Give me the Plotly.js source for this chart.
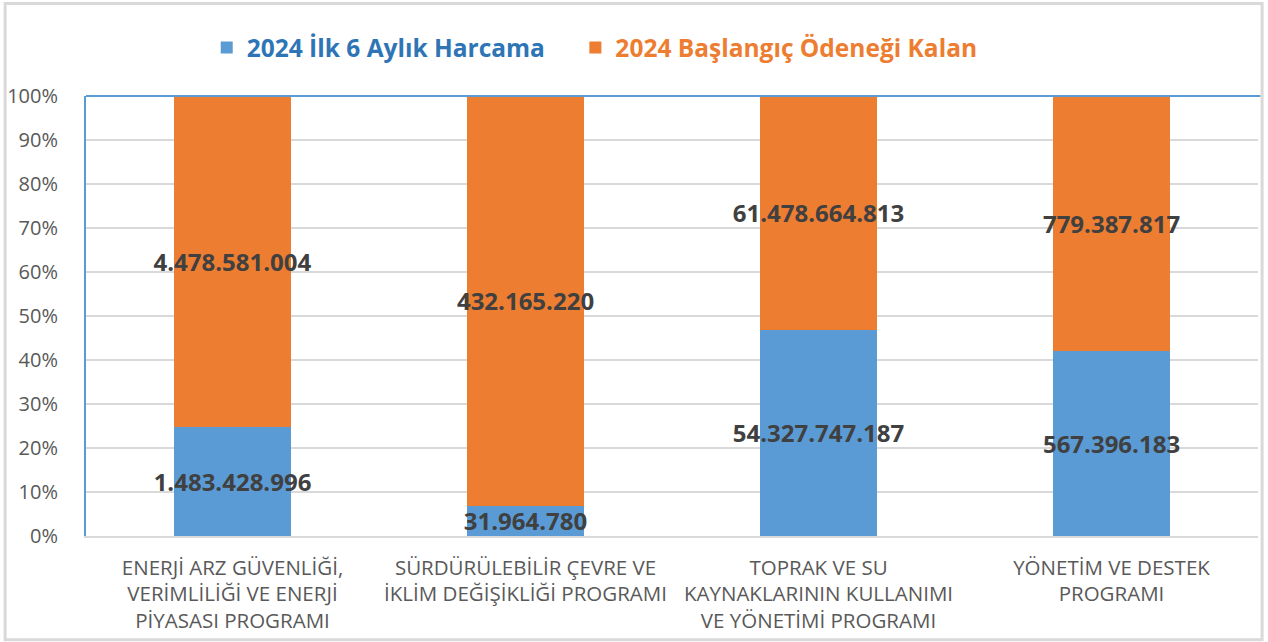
<!DOCTYPE html>
<html>
<head>
<meta charset="utf-8">
<script src="https://cdn.plot.ly/plotly-3.0.1.min.js"></script>
<style>
html,body{margin:0;padding:0;background:#fff;}
#chart{width:1268px;height:642px;}
</style>
</head>
<body>
<div id="chart"></div>
<script>
const categories = [
  "ENERJİ ARZ GÜVENLİĞİ,<br>VERİMLİLİĞİ VE ENERJİ<br>PİYASASI PROGRAMI",
  "SÜRDÜRÜLEBİLİR ÇEVRE VE<br>İKLİM DEĞİŞİKLİĞİ PROGRAMI",
  "TOPRAK VE SU<br>KAYNAKLARININ KULLANIMI<br>VE YÖNETİMİ PROGRAMI",
  "YÖNETİM VE DESTEK<br>PROGRAMI"
];
const harcama = [1483428996, 31964780, 54327747187, 567396183];
const kalan = [4478581004, 432165220, 61478664813, 779387817];
const seriesNames = ["2024 İlk 6 Aylık Harcama", "2024 Başlangıç Ödeneği Kalan"];
const yTicks = [0, 10, 20, 30, 40, 50, 60, 70, 80, 90, 100];
const yTickLabels = ["0%", "10%", "20%", "30%", "40%", "50%", "60%", "70%", "80%", "90%", "100%"];

function fmt(v) {
  return String(v).replace(/\B(?=(\d{3})+(?!\d))/g, ".");
}

const labelFont = {family: "Open Sans, sans-serif", size: 24, color: "#404040", weight: "bold"};
const pad = "\u00A0\u00A0\u00A0\u00A0";

const traces = [
  {
    type: "bar", x: categories, y: harcama,
    name: '<span style="color:#2E75B6">' + seriesNames[0] + '</span>' + pad,
    marker: {color: "#5B9BD5"},
    text: harcama.map(fmt), textposition: "inside", insidetextanchor: "middle",
    constraintext: "none", textangle: 0,
    textfont: labelFont, insidetextfont: labelFont,
    hoverinfo: "skip"
  },
  {
    type: "bar", x: categories, y: kalan,
    name: '<span style="color:#ED7D31">' + seriesNames[1] + '</span>',
    marker: {color: "#ED7D31"},
    text: kalan.map(fmt), textposition: "inside", insidetextanchor: "middle",
    constraintext: "none", textangle: 0,
    textfont: labelFont, insidetextfont: labelFont,
    hoverinfo: "skip"
  }
];

const layout = {
  width: 1268, height: 642,
  margin: {l: 86, r: 10, t: 96, b: 106},
  paper_bgcolor: "#ffffff", plot_bgcolor: "#ffffff",
  barmode: "stack", barnorm: "percent", bargap: 0.6,
  font: {family: "Open Sans, sans-serif", color: "#595959"},
  showlegend: true,
  legend: {
    orientation: "h", x: 0.103, xanchor: "left", y: 1.11, yanchor: "middle",
    font: {family: "Open Sans, sans-serif", size: 24.5, weight: "bold"},
    traceorder: "normal", itemwidth: 30, bgcolor: "rgba(0,0,0,0)"
  },
  xaxis: {
    type: "category", showgrid: false, zeroline: false,
    showline: true, linecolor: "#D9D9D9", linewidth: 2,
    tickfont: {family: "Open Sans, sans-serif", size: 20.5, color: "#595959"},
    ticks: "", ticklabelstandoff: 12, fixedrange: true
  },
  yaxis: {
    range: [0, 100], tickvals: yTicks, ticktext: yTickLabels,
    showgrid: true, gridcolor: "#D9D9D9", gridwidth: 2,
    zeroline: false, showline: true, linecolor: "#5B9BD5", linewidth: 2,
    tickfont: {family: "Open Sans, sans-serif", size: 20, color: "#595959"},
    ticks: "", ticklabelstandoff: 22, fixedrange: true
  },
  shapes: [
    {type: "line", xref: "paper", yref: "paper", x0: 0, x1: 1.002, y0: 1, y1: 1,
     line: {color: "#5B9BD5", width: 2}},
    {type: "rect", xref: "paper", yref: "paper", x0: -0.069, x1: 1.0035, y0: -0.236, y1: 1.21,
     line: {color: "#D9D9D9", width: 3}, layer: "below"}
  ]
};

Plotly.newPlot("chart", traces, layout, {displayModeBar: false, staticPlot: true});
</script>
</body>
</html>
